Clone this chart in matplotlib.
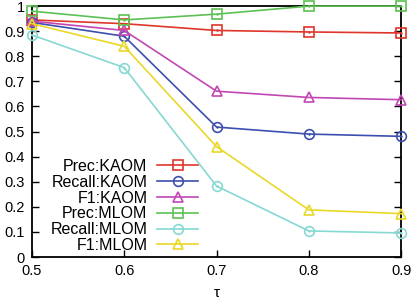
import matplotlib
matplotlib.use("Agg")
import matplotlib.pyplot as plt

plt.rcParams['font.family'] = ['Liberation Sans', 'DejaVu Sans']

tau = [0.5, 0.6, 0.7, 0.8, 0.9]
prec_kaom = [0.945, 0.93, 0.903, 0.897, 0.893]
recall_kaom = [0.935, 0.88, 0.518, 0.490, 0.481]
f1_kaom = [0.940, 0.903, 0.661, 0.636, 0.627]
prec_mlom = [0.980, 0.945, 0.968, 1.0, 1.0]
recall_mlom = [0.885, 0.755, 0.283, 0.104, 0.096]
f1_mlom = [0.930, 0.840, 0.440, 0.188, 0.173]

labels = ["Prec:KAOM", "Recall:KAOM", "F1:KAOM", "Prec:MLOM", "Recall:MLOM", "F1:MLOM"]
series = [prec_kaom, recall_kaom, f1_kaom, prec_mlom, recall_mlom, f1_mlom]
colors = ["#e0352b", "#3c4fae", "#c247b3", "#5cc152", "#85d9d2", "#e9d827"]
markers = ["s", "o", "^", "s", "o", "^"]

fig = plt.figure(figsize=(4.14, 3.06), dpi=100)
ax = fig.add_axes([0.077, 0.160, 0.892, 0.820])

for y, lab, c, m in zip(series, labels, colors, markers):
    ax.plot(tau, y, color=c, lw=1.2, marker=m, ms=7, mfc='none', mec=c, mew=1.2,
            label=lab, clip_on=False, zorder=3)
    if m != "^":
        ax.plot(tau, y, ls='none', marker='.', ms=1.5, color=c, clip_on=False, zorder=3)

ax.set_xlim(0.5, 0.9)
ax.set_ylim(0, 1)
ax.set_xticks(tau)
ax.set_xticklabels(["0.5", "0.6", "0.7", "0.8", "0.9"])
ax.set_yticks([0, 0.1, 0.2, 0.3, 0.4, 0.5, 0.6, 0.7, 0.8, 0.9, 1.0])
ax.set_yticklabels(["0", "0.1", "0.2", "0.3", "0.4", "0.5", "0.6", "0.7", "0.8", "0.9", "1"])
ax.tick_params(direction='in', length=5, width=1, labelsize=10.5, right=True, top=False,
               pad=5)
ax.set_xlabel("τ", fontsize=11, labelpad=6)
for s in ax.spines.values():
    s.set_linewidth(1.3)

leg = ax.legend(loc='lower left', bbox_to_anchor=(0.022, -0.025), markerfirst=False, frameon=False,
                fontsize=11.5, handlelength=2.6, handletextpad=0.6, labelspacing=0.05,
                borderaxespad=0.25)

fig.savefig("out.png", dpi=100)
